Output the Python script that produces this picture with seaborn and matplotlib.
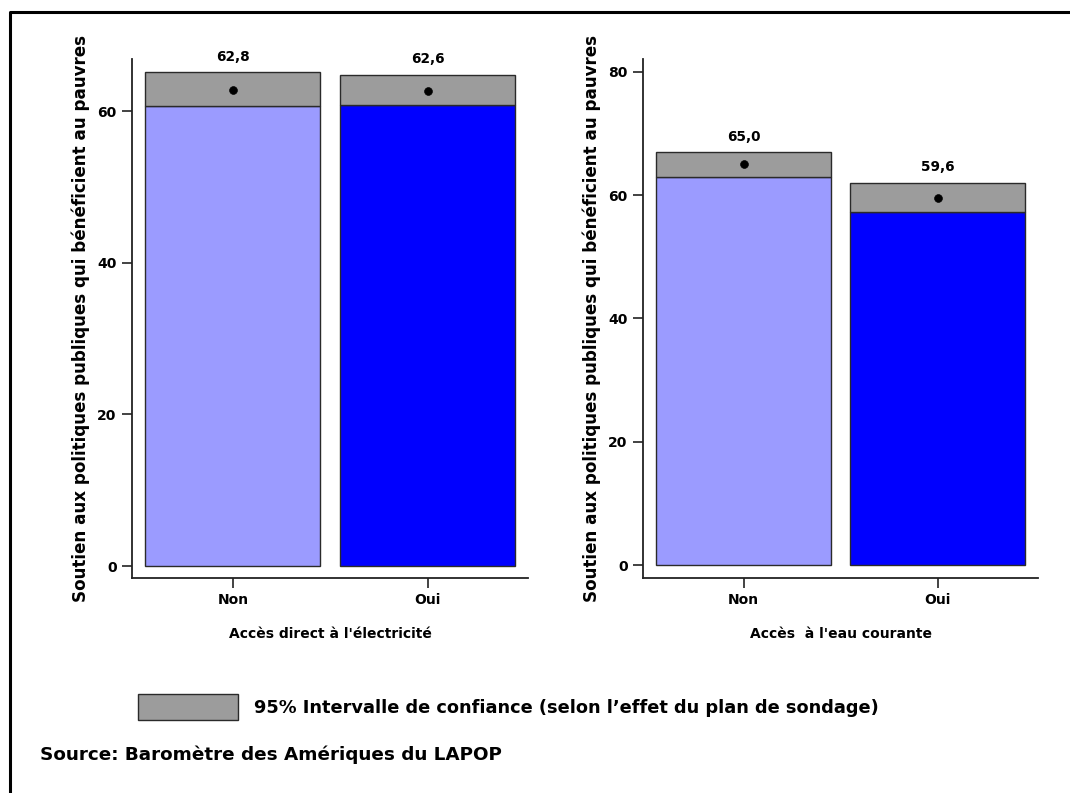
import matplotlib
matplotlib.use("Agg")
import matplotlib.pyplot as plt
import seaborn as sns
import pandas as pd
from matplotlib.lines import Line2D
from matplotlib.patches import Rectangle

sns.set_theme(style="white")
plt.rcParams["font.family"] = ["DejaVu Sans"]
plt.rcParams["font.weight"] = "bold"
plt.rcParams["text.color"] = "black"
plt.rcParams["axes.labelcolor"] = "black"
plt.rcParams["xtick.color"] = "black"
plt.rcParams["ytick.color"] = "black"

# Survey results: mean support with 95% confidence bounds
categories = ["Non", "Oui"]
elec_mean = [62.8, 62.6]
elec_low = [60.7, 60.8]
elec_high = [65.1, 64.8]
water_mean = [65.0, 59.6]
water_low = [62.9, 57.3]
water_high = [67.0, 62.0]

bar_colors = ["#9b9bff", "#0000ff"]
ci_color = "#9c9c9c"
edge_color = "#2a2a2a"

ylabel = "Soutien aux politiques publiques qui bénéficient au pauvres"
panels = [
    dict(title="Accès direct à l'électricité", mean=elec_mean, low=elec_low,
         high=elec_high, ticks=[0, 20, 40, 60], ylim=(-1.58, 66.86),
         box=(132, 59, 528, 578)),
    dict(title="Accès  à l'eau courante", mean=water_mean, low=water_low,
         high=water_high, ticks=[0, 20, 40, 60, 80], ylim=(-2.06, 82.05),
         box=(643, 59, 1038, 578)),
]

W, H = 1070, 793
fig = plt.figure(figsize=(W / 100, H / 100), dpi=100)

for p in panels:
    x0, y0, x1, y1 = p["box"]
    ax = fig.add_axes([x0 / W, 1 - y1 / H, (x1 - x0) / W, (y1 - y0) / H])
    df = pd.DataFrame({"cat": categories, "low": p["low"], "high": p["high"],
                       "mean": p["mean"]})
    sns.barplot(data=df, x="cat", y="low", hue="cat", palette=bar_colors,
                saturation=1, width=0.9, edgecolor=edge_color, linewidth=1.0,
                legend=False, ax=ax, zorder=2)
    # confidence band stacked on top of each bar
    ax.bar(range(len(categories)), df["high"] - df["low"], bottom=df["low"],
           width=0.9, color=ci_color, edgecolor=edge_color, linewidth=1.0,
           zorder=2)
    sns.scatterplot(x=list(range(len(categories))), y=df["mean"], color="black",
                    s=32, edgecolor="black", ax=ax, zorder=3)
    for i, (m, h) in enumerate(zip(df["mean"], df["high"])):
        ax.annotate(f"{m:.1f}".replace(".", ","), (i, h), xytext=(0, 6),
                    textcoords="offset points", ha="center", va="bottom",
                    fontsize=9.8, fontweight="bold", color="black",
                    annotation_clip=False)
    ax.set_xlim(-0.518, 1.516)
    ax.set_ylim(*p["ylim"])
    ax.set_yticks(p["ticks"])
    ax.set_xlabel(p["title"], fontsize=10, fontweight="bold", labelpad=14)
    ax.set_ylabel(ylabel, fontsize=12.1, fontweight="bold", labelpad=5)
    for s in ["top", "right"]:
        ax.spines[s].set_visible(False)
    for s in ["left", "bottom"]:
        ax.spines[s].set_color("#222222")
        ax.spines[s].set_linewidth(1.3)
    ax.tick_params(axis="both", direction="out", length=7, width=1.2,
                   color="#222222", labelsize=10, pad=4, left=True, bottom=True)
    for lab in ax.get_xticklabels() + ax.get_yticklabels():
        lab.set_fontweight("bold")
    ax.set_facecolor("none")

# legend swatch and caption
fig.patches.append(Rectangle((138 / W, 1 - 720 / H), 100 / W, 26 / H,
                             transform=fig.transFigure, facecolor=ci_color,
                             edgecolor=edge_color, linewidth=1.0))
fig.text(254 / W, 1 - 708 / H,
         "95% Intervalle de confiance (selon l’effet du plan de sondage)",
         fontsize=12.75, fontweight="bold", va="center", ha="left")
fig.text(40 / W, 1 - 755 / H, "Source: Baromètre des Amériques du LAPOP",
         fontsize=13.2, fontweight="bold", va="center", ha="left")

# frame along the left and top edges
fig.add_artist(Line2D([10 / W, 10 / W, 1.0], [0.0, 1 - 12 / H, 1 - 12 / H],
                      transform=fig.transFigure, color="black", linewidth=2.2))

fig.savefig("out.png", dpi=100)
